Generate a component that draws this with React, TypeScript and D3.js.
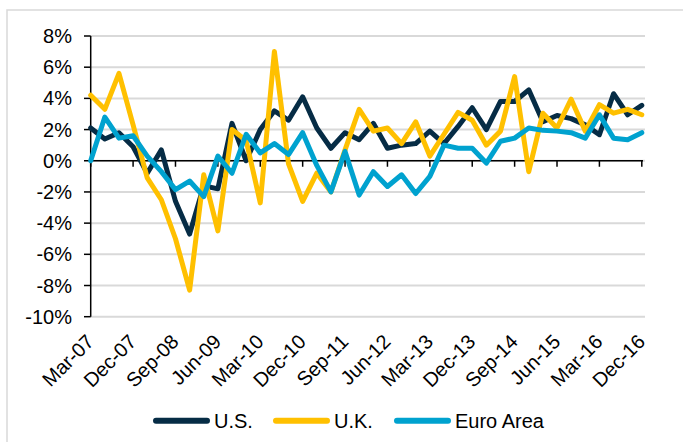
import React from "react";
import * as d3 from "d3";

const quarters = [
  "Mar-07","Jun-07","Sep-07","Dec-07","Mar-08","Jun-08","Sep-08","Dec-08",
  "Mar-09","Jun-09","Sep-09","Dec-09","Mar-10","Jun-10","Sep-10","Dec-10",
  "Mar-11","Jun-11","Sep-11","Dec-11","Mar-12","Jun-12","Sep-12","Dec-12",
  "Mar-13","Jun-13","Sep-13","Dec-13","Mar-14","Jun-14","Sep-14","Dec-14",
  "Mar-15","Jun-15","Sep-15","Dec-15","Mar-16","Jun-16","Sep-16","Dec-16",
];

const us = [
  2.1, 1.4, 1.8, 0.9, -0.8, 0.7, -2.6, -4.7, -1.6, -1.8,
  2.4, 0.0, 2.0, 3.2, 2.6, 4.1, 2.1, 0.8, 1.8, 1.35,
  2.4, 0.8, 1.0, 1.1, 1.9, 1.1, 2.2, 3.4, 2.0, 3.8,
  3.8, 4.55, 2.5, 2.9, 2.7, 2.3, 1.67, 4.3, 2.95, 3.55,
];

const uk = [
  4.2, 3.3, 5.6, 2.3, -1.1, -2.5, -5.0, -8.3, -0.9, -4.5,
  2.0, 1.3, -2.7, 7.0, -0.2, -2.6, -0.8, -2.0, 0.7, 3.3,
  1.9, 2.1, 1.1, 2.5, 0.3, 1.7, 3.1, 2.6, 1.0, 1.9,
  5.4, -0.7, 3.05, 2.1, 3.95, 1.9, 3.6, 3.05, 3.3, 2.95,
];

const euro = [
  0.0, 2.8, 1.45, 1.6, 0.3, -0.7, -1.85, -1.3, -2.3, 0.3,
  -0.8, 1.7, 0.5, 1.1, 0.4, 1.8, -0.3, -2.0, 0.6, -2.2,
  -0.7, -1.65, -0.9, -2.1, -1.0, 1.0, 0.8, 0.8, -0.15, 1.25,
  1.45, 2.1, 1.95, 1.9, 1.8, 1.45, 2.95, 1.45, 1.35, 1.8,
];

const yTicks = [-10, -8, -6, -4, -2, 0, 2, 4, 6, 8];

const seriesNames = ["U.S.", "U.K.", "Euro Area"];
const seriesColors = ["#062C45", "#FFC000", "#00A2CF"];

const W = 683;
const H = 442;
const FONT = "'Liberation Sans', Arial, sans-serif";

export default function App() {
  const x = d3.scaleLinear().domain([0, quarters.length - 1]).range([90.7, 641.8]);
  const y = d3.scaleLinear().domain([-10, 8]).range([316.7, 36]);
  const line = d3
    .line<number>()
    .x((_, i) => x(i))
    .y((d) => y(d));
  const series = [us, uk, euro];
  const labelIdx = quarters.map((_, i) => i).filter((i) => i % 3 === 0);
  const legendX = [153, 273, 394];

  return (
    <svg
      width={W}
      height={H}
      style={{ position: "absolute", left: 0, top: 0, background: "#fff" }}
      fontFamily={FONT}
    >
      <rect x={7} y={10} width={720} height={480} fill="#fff" stroke="#D9D9D9" strokeWidth={1.5} />
      {yTicks.map((t) => (
        <line key={"g" + t} x1={90.7} x2={645} y1={y(t)} y2={y(t)} stroke="#D9D9D9" strokeWidth={2} />
      ))}
      {yTicks.map((t) => (
        <g key={"yt" + t}>
          <line x1={84} x2={90.7} y1={y(t)} y2={y(t)} stroke="#000" strokeWidth={1.5} />
          <text x={72} y={y(t)} dy="0.35em" textAnchor="end" fontSize={20} fill="#000">
            {t + "%"}
          </text>
        </g>
      ))}
      <line x1={90.7} x2={90.7} y1={y(8)} y2={y(-10)} stroke="#000" strokeWidth={1.5} />
      <line x1={90.7} x2={643} y1={y(0)} y2={y(0)} stroke="#000" strokeWidth={1.5} />
      {labelIdx.map((i) => (
        <line key={"xt" + i} x1={x(i)} x2={x(i)} y1={y(0)} y2={y(0) + 6} stroke="#000" strokeWidth={1.5} />
      ))}
      {series.map((s, k) => (
        <path
          key={"s" + k}
          d={line(s) || ""}
          fill="none"
          stroke={seriesColors[k]}
          strokeWidth={5}
          strokeLinejoin="round"
          strokeLinecap="round"
        />
      ))}
      {labelIdx.map((i) => (
        <text
          key={"xl" + i}
          transform={`translate(${x(i) + 4.5},${343}) rotate(-45)`}
          textAnchor="end"
          fontSize={20}
          fill="#000"
        >
          {quarters[i]}
        </text>
      ))}
      {seriesNames.map((n, k) => (
        <g key={"lg" + k}>
          <line
            x1={legendX[k] + 3}
            x2={legendX[k] + 54}
            y1={420.7}
            y2={420.7}
            stroke={seriesColors[k]}
            strokeWidth={6}
            strokeLinecap="round"
          />
          <text x={legendX[k] + 61} y={428} fontSize={20} fill="#000">
            {n}
          </text>
        </g>
      ))}
    </svg>
  );
}
